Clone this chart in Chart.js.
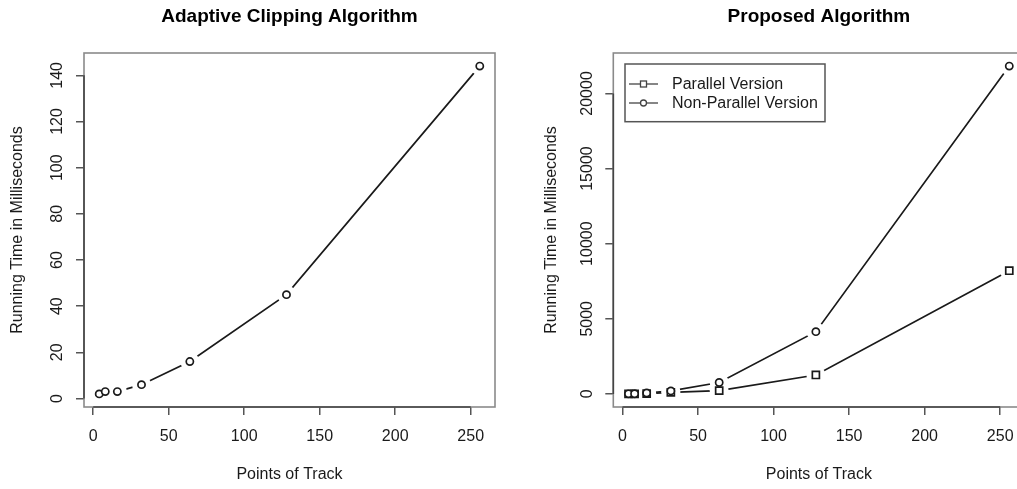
<!DOCTYPE html>
<html><head><meta charset="utf-8">
<script src="https://cdn.jsdelivr.net/npm/chart.js@4"></script>
<style>
html,body{margin:0;padding:0;overflow:hidden;background:#fff;width:1017px;height:489px;}
#wrap{position:relative;width:1017px;height:489px;overflow:hidden;background:#fff;}
canvas{position:absolute;top:0;}
#c1{left:0}
#c2{left:509px}
</style></head><body>
<div id="wrap"><canvas id="c1" width="509" height="489"></canvas><canvas id="c2" width="530" height="489"></canvas></div>
<script>
// ---- data ----
const trackPoints = [4, 8, 16, 32, 64, 128, 256];
const adaptiveMs = [2, 3, 3, 6, 16, 45, 144];
const parallelMs = [2, 5, 20, 100, 220, 1260, 8200];
const nonParallelMs = [5, 12, 60, 200, 760, 4145, 21818];
const xTicks = [0, 50, 100, 150, 200, 250];
const leftYTicks = [0, 20, 40, 60, 80, 100, 120, 140];
const rightYTicks = [0, 5000, 10000, 15000, 20000];
const panelTitles = ['Adaptive Clipping Algorithm', 'Proposed Algorithm'];
const xTitle = 'Points of Track';
const yTitle = 'Running Time in Milliseconds';
const seriesNames = ['Parallel Version', 'Non-Parallel Version'];

// ---- helpers ----
const FONT = '"Liberation Sans", Arial, Helvetica, sans-serif';
const INK = '#1a1a1a';
function rRange(vals) { // R's default 4% axis extension
  const lo = Math.min(...vals), hi = Math.max(...vals), d = (hi - lo) * 0.04;
  return [lo - d, hi + d];
}
function pts(ys) { return trackPoints.map((x, i) => ({x: x, y: ys[i]})); }
function seriesSets(label, ys, style, k) {
  const d = pts(ys);
  return [
    {label: label, data: d, showLine: true, borderColor: INK, borderWidth: 1.7, pointRadius: 0, order: 30 + k},
    {label: label + ' gap', data: d, showLine: false, pointRadius: 9.5, pointStyle: 'circle',
     pointBackgroundColor: '#fff', pointBorderWidth: 0, pointBorderColor: '#fff', order: 20 + k},
    {label: label + ' pts', data: d, showLine: false, pointStyle: style,
     pointRadius: style === 'rect' ? 5 : 3.6, pointBackgroundColor: '#fff',
     pointBorderColor: INK, pointBorderWidth: 1.7, order: 10 + k}
  ];
}

const rBox = {
  id: 'rBox',
  afterDatasetsDraw(chart) {
    const ctx = chart.ctx, a = chart.chartArea;
    ctx.save();
    ctx.strokeStyle = '#8a8a8a'; ctx.lineWidth = 1.6;
    ctx.strokeRect(a.left, a.top, a.right - a.left, a.bottom - a.top);
    ctx.strokeStyle = '#444'; ctx.lineWidth = 1.6;
    const xs = chart.scales.x, ys = chart.scales.y;
    const xt = xs.ticks, yt = ys.ticks;
    ctx.beginPath();
    ctx.moveTo(xs.getPixelForValue(xt[0].value), a.bottom);
    ctx.lineTo(xs.getPixelForValue(xt[xt.length - 1].value), a.bottom);
    ctx.moveTo(a.left, ys.getPixelForValue(yt[0].value));
    ctx.lineTo(a.left, ys.getPixelForValue(yt[yt.length - 1].value));
    ctx.stroke();
    ctx.restore();
  }
};

const rLegend = {
  id: 'rLegend',
  afterDraw(chart, args, opts) {
    if (!opts || !opts.items) return;
    const ctx = chart.ctx, a = chart.chartArea;
    const x0 = a.left + opts.dx, y0 = a.top + opts.dy;
    ctx.save();
    ctx.fillStyle = '#fff';
    ctx.fillRect(x0, y0, opts.w, opts.h);
    ctx.strokeStyle = '#555'; ctx.lineWidth = 1.5;
    ctx.strokeRect(x0, y0, opts.w, opts.h);
    ctx.font = '16px ' + FONT;
    ctx.textBaseline = 'middle'; ctx.textAlign = 'left';
    opts.items.forEach((it, i) => {
      const cy = y0 + 20 + i * 19;
      ctx.strokeStyle = '#444'; ctx.lineWidth = 1.3;
      ctx.beginPath(); ctx.moveTo(x0 + 4, cy); ctx.lineTo(x0 + 33, cy); ctx.stroke();
      ctx.fillStyle = '#fff';
      if (it.style === 'rect') {
        ctx.fillRect(x0 + 15.5, cy - 3, 6, 6); ctx.strokeRect(x0 + 15.5, cy - 3, 6, 6);
      } else {
        ctx.beginPath(); ctx.arc(x0 + 18.5, cy, 3, 0, Math.PI * 2); ctx.fill(); ctx.stroke();
      }
      ctx.fillStyle = INK;
      ctx.fillText(it.text, x0 + 47, cy + 1);
    });
    ctx.restore();
  }
};

function makeOptions(cfg) {
  const [xmin, xmax] = rRange(trackPoints);
  const plain = v => String(v);
  return {
    responsive: false, animation: false, devicePixelRatio: 1,
    layout: {padding: {left: 0, right: cfg.padRight, top: 0, bottom: 0}},
    plugins: {
      legend: {display: false}, tooltip: {enabled: false},
      title: {display: true, text: cfg.title, fullSize: false, color: '#000',
        font: {family: FONT, size: 19, weight: 'bold'}, padding: {top: 5, bottom: 25.2}},
      rLegend: cfg.legend || {}
    },
    scales: {
      x: {
        type: 'linear', position: 'bottom', min: xmin, max: xmax,
        afterBuildTicks: s => { s.ticks = xTicks.map(v => ({value: v})); },
        afterFit: s => { s.height = 82; },
        ticks: {font: {family: FONT, size: 16}, color: INK, padding: 12.4, autoSkip: false, maxRotation: 0,
          includeBounds: false, callback: plain},
        grid: {drawOnChartArea: false, drawTicks: true, tickLength: 8, color: '#555', lineWidth: 1.5},
        border: {display: false},
        title: {display: true, text: xTitle, color: INK, font: {family: FONT, size: 16}, padding: {top: 0, bottom: 4.4}}
      },
      y: {
        type: 'linear', position: 'left', min: cfg.ymin, max: cfg.ymax,
        afterBuildTicks: s => { s.ticks = cfg.yTicks.map(v => ({value: v})); },
        afterFit: s => { s.width = cfg.axisWidth; },
        ticks: {font: {family: FONT, size: 16}, color: INK, padding: cfg.tickPad, autoSkip: false,
          minRotation: 90, maxRotation: 90, crossAlign: 'center', includeBounds: false, callback: plain},
        grid: {drawOnChartArea: false, drawTicks: true, tickLength: 8, color: '#555', lineWidth: 1.5},
        border: {display: false},
        title: {display: true, text: yTitle, color: INK, font: {family: FONT, size: 16}, padding: {top: cfg.titlePad, bottom: 0}}
      }
    }
  };
}

// ---- left panel ----
const [ly0, ly1] = rRange(adaptiveMs);
new Chart(document.getElementById('c1'), {
  type: 'scatter',
  data: {datasets: seriesSets('Adaptive Clipping', adaptiveMs, 'circle', 0)},
  options: makeOptions({title: panelTitles[0], padRight: 14, ymin: ly0, ymax: ly1, yTicks: leftYTicks,
    axisWidth: 84, tickPad: 5, titlePad: 8.4}),
  plugins: [rBox, rLegend]
});

// ---- right panel ----
const [ry0, ry1] = rRange(parallelMs.concat(nonParallelMs));
new Chart(document.getElementById('c2'), {
  type: 'scatter',
  data: {datasets: seriesSets(seriesNames[0], parallelMs, 'rect', 1).concat(seriesSets(seriesNames[1], nonParallelMs, 'circle', 0))},
  options: makeOptions({title: panelTitles[1], padRight: 14.5, ymin: ry0, ymax: ry1, yTicks: rightYTicks,
    axisWidth: 104.3, tickPad: -4.5, titlePad: 32.7,
    legend: {dx: 11.7, dy: 11, w: 200, h: 57.7,
      items: [{text: seriesNames[0], style: 'rect'}, {text: seriesNames[1], style: 'circle'}]}}),
  plugins: [rBox, rLegend]
});
</script>
</body></html>
